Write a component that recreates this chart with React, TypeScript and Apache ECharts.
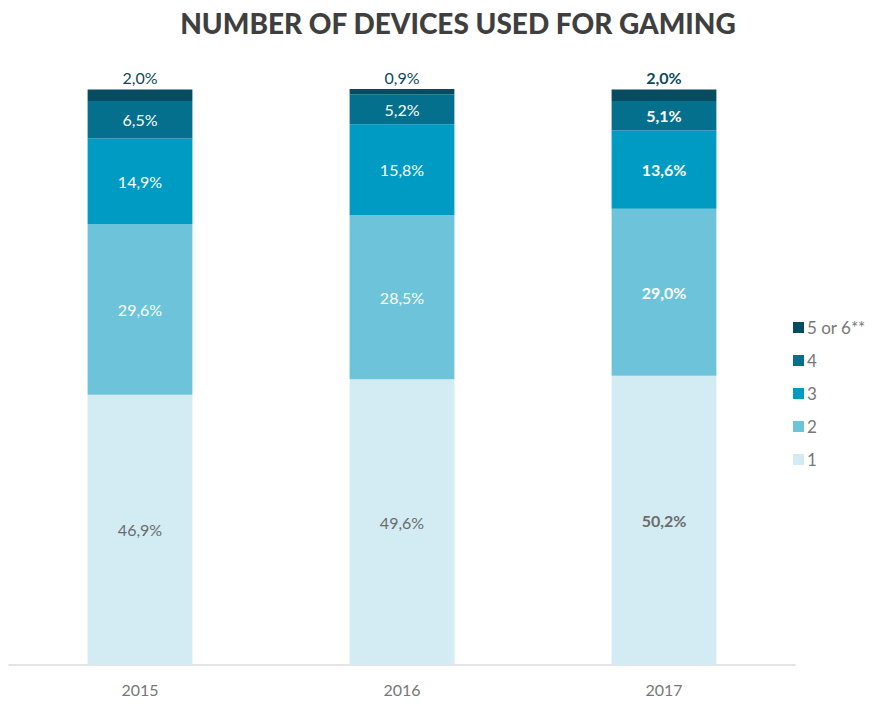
import React, { useEffect, useRef } from "react";
import * as echarts from "echarts";

const years = ["2015", "2016", "2017"];
const seriesNames = ["1", "2", "3", "4", "5 or 6**"];
const v1 = [46.9, 49.6, 50.2];
const v2 = [29.6, 28.5, 29.0];
const v3 = [14.9, 15.8, 13.6];
const v4 = [6.5, 5.2, 5.1];
const v5 = [2.0, 0.9, 2.0];
const colors = ["#d3ecf3", "#6cc3da", "#009bc3", "#04708e", "#064b60"];
const labelColors = ["#6b6b6b", "#ffffff", "#ffffff", "#ffffff", "#0b4a5e"];
const boldYear = "2017";

export default function App() {
  const ref = useRef<HTMLDivElement>(null);
  useEffect(() => {
    if (!ref.current) return;
    const chart = echarts.init(ref.current, undefined, { renderer: "svg" });
    const all = [v1, v2, v3, v4, v5];
    const fmt = (p: any) => Number(p.value).toFixed(1).replace(".", ",") + "%";
    const series = all.map((vals, i) => ({
      name: seriesNames[i],
      type: "bar",
      stack: "total",
      barWidth: "40%",
      itemStyle: { color: colors[i] },
      label: {
        show: true,
        position: i === 4 ? "top" : "inside",
        distance: 4,
        color: labelColors[i],
        fontSize: 16,
        fontFamily: "Lato",
        formatter: fmt,
      },
      data: vals.map((v, j) => ({
        value: v,
        label: years[j] === boldYear ? { fontWeight: "bold" } : {},
      })),
    }));
    chart.setOption({
      animation: false,
      title: {
        text: "NUMBER OF DEVICES USED FOR GAMING",
        left: 453,
        textAlign: "center",
        top: 4,
        textStyle: {
          fontFamily: "Lato",
          fontWeight: 900,
          fontSize: 28,
          color: "#3f3f3f",
        },
      },
      legend: {
        orient: "vertical",
        left: 788,
        top: 314,
        icon: "rect",
        itemWidth: 11,
        itemHeight: 11,
        itemGap: 16,
        data: ["5 or 6**", "4", "3", "2", "1"],
        textStyle: { fontFamily: "Lato", fontSize: 17, color: "#777777", padding: [0, 0, 0, -2] },
      },
      grid: { left: 9, right: 79, top: 89, bottom: 39, containLabel: false },
      xAxis: {
        type: "category",
        data: years,
        axisLine: { lineStyle: { color: "#dcdcdc", width: 1.5 } },
        axisTick: { show: false },
        axisLabel: { fontFamily: "Lato", fontSize: 16, color: "#777777", margin: 16 },
      },
      yAxis: { type: "value", min: 0, max: 100, show: false, splitLine: { show: false } },
      series,
    });
    return () => chart.dispose();
  }, []);
  return <div ref={ref} style={{ width: 874, height: 704, margin: -8 }} />;
}
